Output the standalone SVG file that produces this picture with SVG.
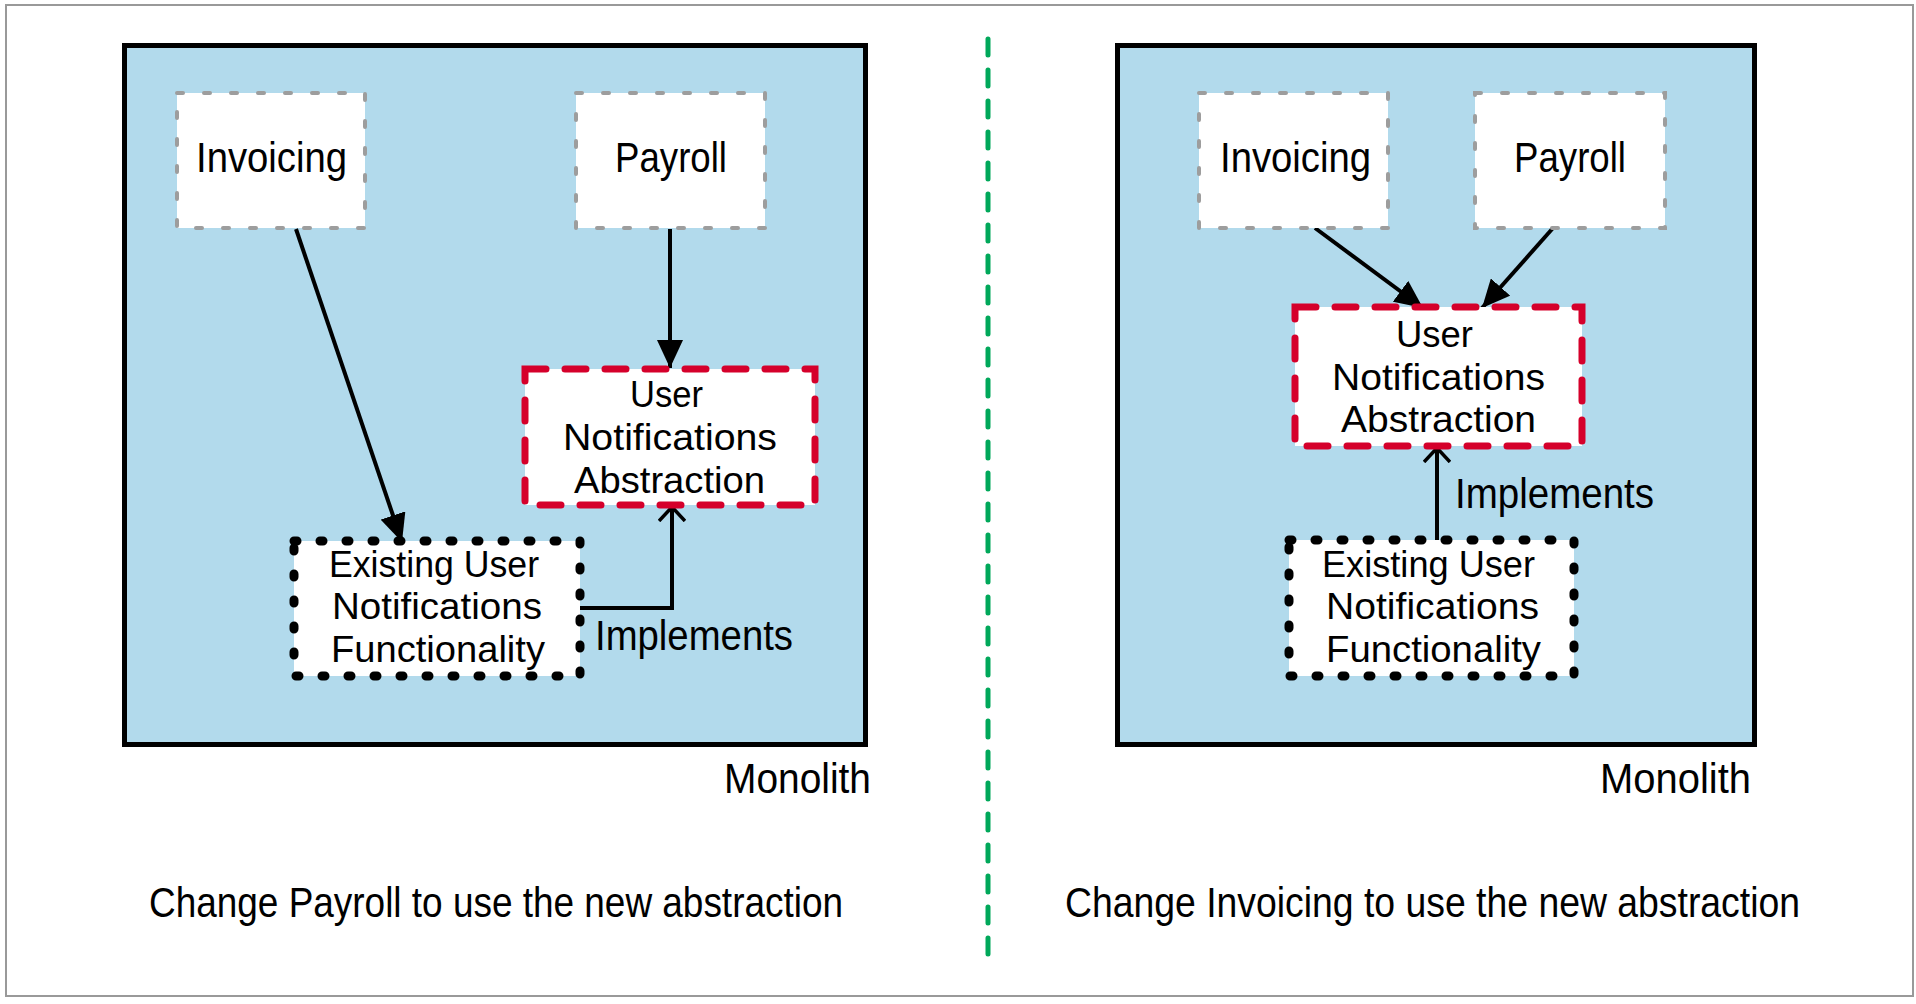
<svg xmlns="http://www.w3.org/2000/svg" width="1916" height="1004" viewBox="0 0 1916 1004">
<defs>
<style>
text{font-family:"Liberation Sans",Arial,sans-serif;font-size:42px;fill:#000;}
.st{font-size:37px;}
.mono{fill:#b2daec;stroke:#000;stroke-width:5;}
.svc{fill:#fff;stroke:#9d9d9d;stroke-width:4;stroke-dasharray:6 21;stroke-linecap:round;}
.abs{fill:#fff;stroke:#d5002b;stroke-width:7;stroke-dasharray:21 19;stroke-linecap:round;}
.ex{fill:#fff;stroke:#000;stroke-width:9;stroke-dasharray:3 23;stroke-linecap:round;}
.ln{fill:none;stroke:#000;stroke-width:4;}
</style>
<marker id="ah" viewBox="0 0 28 26" refX="28" refY="13" markerWidth="28" markerHeight="26" markerUnits="userSpaceOnUse" orient="auto">
<path d="M0,0 L28,13 L0,26 Z" fill="#000"/>
</marker>
<marker id="oh" viewBox="0 0 16 28" refX="15" refY="14" markerWidth="16" markerHeight="28" markerUnits="userSpaceOnUse" orient="auto">
<path d="M1,1 L15,14 L1,27" fill="none" stroke="#000" stroke-width="3.5"/>
</marker>
</defs>
<rect x="6" y="5" width="1907" height="991" fill="#fff" stroke="#999" stroke-width="2"/>
<line x1="988" y1="39" x2="988" y2="962" stroke="#00a85a" stroke-width="5" stroke-dasharray="16 15" stroke-linecap="round"/>

<g id="left-monolith">
<rect class="mono" x="124.5" y="45.5" width="741" height="699"/>
<text x="724" y="793" textLength="147" lengthAdjust="spacingAndGlyphs">Monolith</text>
</g>
<g id="right-monolith">
<rect class="mono" x="1117.5" y="45.5" width="637" height="699"/>
<text x="1600" y="793" textLength="151" lengthAdjust="spacingAndGlyphs">Monolith</text>
</g>

<g id="connectors">
<line class="ln" x1="296" y1="229" x2="402" y2="542" marker-end="url(#ah)"/>
<line class="ln" x1="670" y1="229" x2="670" y2="368" marker-end="url(#ah)"/>
<polyline class="ln" points="580,608 672,608 672,507" marker-end="url(#oh)"/>
<line class="ln" x1="1315" y1="228" x2="1423" y2="308" marker-end="url(#ah)"/>
<line class="ln" x1="1553" y1="228" x2="1482" y2="308" marker-end="url(#ah)"/>
<line class="ln" x1="1437" y1="540" x2="1437" y2="448" marker-end="url(#oh)"/>
<text x="595" y="650" textLength="198" lengthAdjust="spacingAndGlyphs">Implements</text>
<text x="1455" y="508" textLength="199" lengthAdjust="spacingAndGlyphs">Implements</text>
</g>

<g id="left-invoicing">
<rect class="svc" x="177" y="93" width="188" height="135"/>
<text x="196" y="172" textLength="151" lengthAdjust="spacingAndGlyphs">Invoicing</text>
</g>
<g id="left-payroll">
<rect class="svc" x="576" y="93" width="189" height="135"/>
<text x="615" y="172" textLength="112" lengthAdjust="spacingAndGlyphs">Payroll</text>
</g>
<g id="left-abstraction">
<rect class="abs" x="525" y="369" width="290" height="136"/>
<text class="st" x="630" y="407" textLength="73" lengthAdjust="spacingAndGlyphs">User</text>
<text class="st" x="563" y="450" textLength="214" lengthAdjust="spacingAndGlyphs">Notifications</text>
<text class="st" x="574" y="493" textLength="191" lengthAdjust="spacingAndGlyphs">Abstraction</text>
</g>
<g id="left-existing">
<rect class="ex" x="294" y="541" width="286" height="135"/>
<text class="st" x="329" y="577" textLength="210" lengthAdjust="spacingAndGlyphs">Existing User</text>
<text class="st" x="332" y="619" textLength="210" lengthAdjust="spacingAndGlyphs">Notifications</text>
<text class="st" x="331" y="662" textLength="214" lengthAdjust="spacingAndGlyphs">Functionality</text>
</g>

<g id="right-invoicing">
<rect class="svc" x="1199" y="93" width="189" height="135"/>
<text x="1220" y="172" textLength="151" lengthAdjust="spacingAndGlyphs">Invoicing</text>
</g>
<g id="right-payroll">
<rect class="svc" x="1475" y="93" width="190" height="135"/>
<text x="1514" y="172" textLength="112" lengthAdjust="spacingAndGlyphs">Payroll</text>
</g>
<g id="right-abstraction">
<rect class="abs" x="1295" y="307" width="287" height="139"/>
<text class="st" x="1396" y="347" textLength="77" lengthAdjust="spacingAndGlyphs">User</text>
<text class="st" x="1332" y="390" textLength="213" lengthAdjust="spacingAndGlyphs">Notifications</text>
<text class="st" x="1341" y="432" textLength="195" lengthAdjust="spacingAndGlyphs">Abstraction</text>
</g>
<g id="right-existing">
<rect class="ex" x="1289" y="540" width="285" height="136"/>
<text class="st" x="1322" y="577" textLength="213" lengthAdjust="spacingAndGlyphs">Existing User</text>
<text class="st" x="1326" y="619" textLength="213" lengthAdjust="spacingAndGlyphs">Notifications</text>
<text class="st" x="1326" y="662" textLength="215" lengthAdjust="spacingAndGlyphs">Functionality</text>
</g>

<g id="captions">
<text x="149" y="917" textLength="694" lengthAdjust="spacingAndGlyphs">Change Payroll to use the new abstraction</text>
<text x="1065" y="917" textLength="735" lengthAdjust="spacingAndGlyphs">Change Invoicing to use the new abstraction</text>
</g>
</svg>
